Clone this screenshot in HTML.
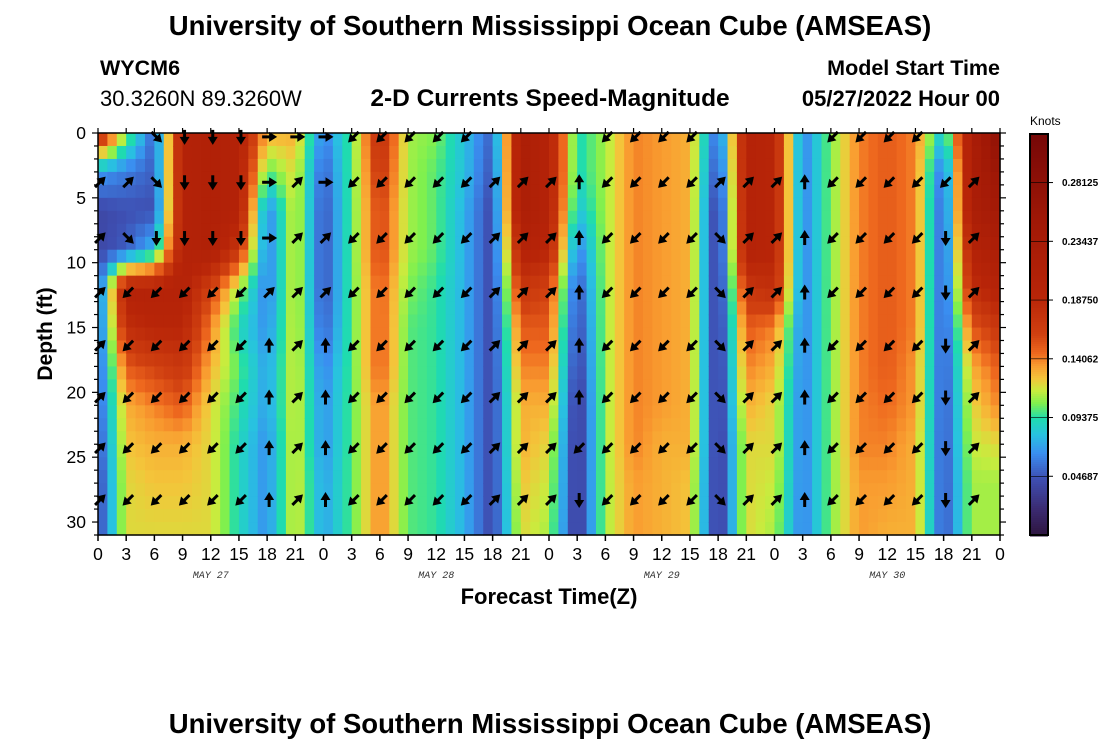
<!DOCTYPE html>
<html><head><meta charset="utf-8"><style>
body{margin:0;background:#fff;}
svg{display:block;font-family:"Liberation Sans",sans-serif;}
</style></head><body>
<svg id="chart" width="1100" height="750" viewBox="0 0 1100 750">
<text x="550" y="35" text-anchor="middle" font-size="27.5" font-weight="bold">University of Southern Mississippi Ocean Cube (AMSEAS)</text>
<text x="100" y="75" font-size="21.5" font-weight="bold">WYCM6</text>
<text x="100" y="106" font-size="22">30.3260N  89.3260W</text>
<text x="550" y="106" text-anchor="middle" font-size="24.5" font-weight="bold">2-D Currents Speed-Magnitude</text>
<text x="1000" y="75" text-anchor="end" font-size="21.5" font-weight="bold">Model Start Time</text>
<text x="1000" y="106" text-anchor="end" font-size="22" font-weight="bold">05/27/2022 Hour 00</text>
<g id="heat"></g>
<g id="arrows"></g>
<rect x="98" y="133" width="902" height="402" fill="none" stroke="#000" stroke-width="1.5"/>
<g id="axes"></g>
<text x="0" y="0" transform="translate(52,334) rotate(-90)" text-anchor="middle" font-size="21" font-weight="bold">Depth (ft)</text>
<text x="549" y="604" text-anchor="middle" font-size="22" font-weight="bold">Forecast Time(Z)</text>
<g id="cbar"></g>
<text x="1030" y="125" font-size="12">Knots</text>
<text x="550" y="733" text-anchor="middle" font-size="27.5" font-weight="bold">University of Southern Mississippi Ocean Cube (AMSEAS)</text>
</svg>
<script>
const hours=[0,3,6,9,12,15,18,21,24,27,30,33,36,39,42,45,48,51,54,57,60,63,66,69,72,75,78,81,84,87,90,93,96];
const depths=[0,3,6,9,12,15,18,21,24,27,31];
const speed=[
[0.19,0.07,0.04,0.04,0.05,0.05,0.05,0.05,0.045,0.04,0.04],
[0.11,0.06,0.045,0.05,0.2,0.18,0.15,0.13,0.125,0.12,0.12],
[0.05,0.05,0.045,0.08,0.2,0.19,0.16,0.14,0.13,0.125,0.12],
[0.2,0.2,0.2,0.2,0.2,0.19,0.17,0.15,0.13,0.125,0.12],
[0.21,0.21,0.21,0.21,0.16,0.14,0.13,0.12,0.12,0.12,0.12],
[0.2,0.2,0.2,0.17,0.11,0.09,0.1,0.095,0.09,0.09,0.09],
[0.13,0.1,0.06,0.06,0.06,0.065,0.07,0.07,0.065,0.065,0.065],
[0.13,0.12,0.12,0.12,0.12,0.12,0.12,0.12,0.12,0.12,0.12],
[0.06,0.05,0.045,0.045,0.045,0.05,0.06,0.065,0.065,0.07,0.07],
[0.1,0.1,0.1,0.1,0.1,0.1,0.1,0.1,0.1,0.1,0.1],
[0.18,0.17,0.16,0.16,0.15,0.15,0.15,0.14,0.14,0.14,0.14],
[0.11,0.11,0.11,0.11,0.105,0.1,0.1,0.1,0.1,0.1,0.1],
[0.105,0.1,0.1,0.1,0.095,0.095,0.095,0.095,0.095,0.095,0.095],
[0.08,0.08,0.075,0.075,0.075,0.075,0.075,0.075,0.075,0.075,0.075],
[0.05,0.045,0.04,0.04,0.04,0.04,0.04,0.04,0.04,0.04,0.04],
[0.22,0.22,0.22,0.2,0.17,0.15,0.14,0.13,0.13,0.125,0.12],
[0.2,0.2,0.2,0.19,0.16,0.15,0.14,0.13,0.12,0.115,0.11],
[0.09,0.09,0.08,0.06,0.045,0.04,0.035,0.03,0.03,0.03,0.03],
[0.11,0.11,0.11,0.11,0.11,0.11,0.11,0.11,0.11,0.11,0.11],
[0.14,0.14,0.14,0.14,0.14,0.14,0.14,0.14,0.14,0.135,0.135],
[0.135,0.135,0.135,0.135,0.135,0.135,0.135,0.135,0.13,0.13,0.13],
[0.13,0.13,0.13,0.13,0.13,0.13,0.13,0.13,0.13,0.125,0.125],
[0.05,0.04,0.03,0.03,0.03,0.03,0.03,0.03,0.03,0.03,0.03],
[0.2,0.2,0.2,0.2,0.17,0.15,0.14,0.13,0.12,0.12,0.12],
[0.19,0.19,0.19,0.19,0.18,0.14,0.13,0.12,0.12,0.115,0.11],
[0.06,0.06,0.06,0.06,0.06,0.06,0.06,0.06,0.06,0.06,0.06],
[0.105,0.105,0.105,0.105,0.105,0.105,0.105,0.105,0.105,0.105,0.105],
[0.14,0.14,0.14,0.14,0.14,0.14,0.14,0.14,0.14,0.135,0.135],
[0.15,0.15,0.15,0.15,0.15,0.15,0.15,0.145,0.14,0.135,0.13],
[0.14,0.14,0.14,0.14,0.14,0.14,0.135,0.135,0.13,0.13,0.13],
[0.08,0.05,0.045,0.045,0.045,0.045,0.045,0.045,0.045,0.045,0.045],
[0.22,0.22,0.22,0.2,0.18,0.15,0.13,0.12,0.115,0.11,0.11],
[0.28,0.26,0.24,0.22,0.2,0.17,0.15,0.14,0.12,0.11,0.11]];
const arrowDepths=[0.3,3.8,8.1,12.3,16.4,20.4,24.3,28.3];
// per column: 0=N,1=NE,2=E,3=SE,4=S,5=SW,6=W,7=NW, '.'=none
const arrowDirs=[".1111111",".1355555","33455555","44455555","44455555","44455555","22210000","21111111","22110000","55555555","55555555","55555555","55555555","55555555",".1111111",".1111111",".1111111",".0000054","55555555","55555555","55555555","55555555",".1333333",".1111111",".1111111",".0000000","55555555","55555555","55555555","55555555",".5444444",".1111111","........"];
const xTickLabels=["0","3","6","9","12","15","18","21"];
const yTicks=[0,5,10,15,20,25,30];
const dateLabels=["MAY 27","MAY 28","MAY 29","MAY 30"];
const dateHours=[12,36,60,84];
const cbarTicks=[0.04687,0.09375,0.14062,0.1875,0.23437,0.28125];
const cbarLabels=["0.04687","0.09375","0.14062","0.18750","0.23437","0.28125"];

const X0=98,X1=1000,Y0=133,Y1=535,HMAX=96,DMAX=31,VMAX=0.32;
const xs=h=>X0+h*(X1-X0)/HMAX;
const ys=d=>Y0+d*(Y1-Y0)/DMAX;
const stops=[[0,"#2e1540"],[0.02,"#3b2a70"],[0.045,"#3e4fb2"],[0.065,"#3a8ef0"],[0.08,"#28c2e0"],[0.093,"#1fdcae"],[0.105,"#80f04e"],[0.115,"#c8ec3e"],[0.125,"#f4c43a"],[0.135,"#f99c30"],[0.145,"#ee681e"],[0.16,"#d04010"],[0.19,"#b82508"],[0.25,"#a01806"],[0.32,"#760707"]];
function hx(c){return [1,3,5].map(i=>parseInt(c.substr(i,2),16));}
function cmap(v){v=Math.max(0,Math.min(VMAX,v));
 for(let i=1;i<stops.length;i++){if(v<=stops[i][0]){const a=hx(stops[i-1][1]),b=hx(stops[i][1]);const t=(v-stops[i-1][0])/(stops[i][0]-stops[i-1][0]);return "rgb("+a.map((x,k)=>Math.round(x+(b[k]-x)*t)).join(",")+")";}}
 return stops[stops.length-1][1];}
function lerpIdx(arr,v){for(let i=1;i<arr.length;i++){if(v<=arr[i])return [i-1,(v-arr[i-1])/(arr[i]-arr[i-1])];}return [arr.length-2,1];}
function sample(h,d){const [i,tx]=lerpIdx(hours,h);const [j,ty]=lerpIdx(depths,d);
 const a=speed[i][j],b=speed[i+1][j],c=speed[i][j+1],e=speed[i+1][j+1];
 return (a*(1-tx)+b*tx)*(1-ty)+(c*(1-tx)+e*tx)*ty;}
const NS="http://www.w3.org/2000/svg";
function mk(tag,attrs,parent){const el=document.createElementNS(NS,tag);for(const k in attrs)el.setAttribute(k,attrs[k]);parent.appendChild(el);return el;}
const heat=document.getElementById('heat');
for(let h=0;h<HMAX;h++){for(let d=0;d<DMAX;d++){
 const v=sample(h+0.5,d+0.5);
 const r=mk('rect',{x:xs(h).toFixed(2),y:ys(d).toFixed(2),width:(xs(h+1)-xs(h)+0.6).toFixed(2),height:(ys(d+1)-ys(d)+0.6).toFixed(2),fill:cmap(v)},heat);
 
 
}}
const arrows=document.getElementById('arrows');
const ang=[-90,-45,0,45,90,135,180,225];
hours.forEach((h,i)=>{const s=arrowDirs[i];arrowDepths.forEach((d,j)=>{const c=s[j];if(c==='.')return;
 const a=ang[+c];const g=mk('g',{transform:`translate(${xs(h)+2},${ys(d)}) rotate(${a})`},arrows);
 
 
 mk('line',{x1:-7,y1:0,x2:2,y2:0,stroke:'#000','stroke-width':3},g);
 mk('polygon',{points:'8,0 0,-5 0,5',fill:'#000'},g);
});});
const axes=document.getElementById('axes');
for(let h=0;h<=HMAX;h+=3){const x=xs(h);
 mk('line',{x1:x,y1:Y1,x2:x,y2:Y1+6,stroke:'#000','stroke-width':1.5},axes);
 mk('line',{x1:x,y1:Y0,x2:x,y2:Y0-5,stroke:'#000','stroke-width':1.2},axes);
 const t=mk('text',{x:x,y:Y1+25,'text-anchor':'middle','font-size':17.5},axes);
 t.textContent=xTickLabels[(h/3)%8];
 
 
}
for(let d=0;d<=DMAX;d++){const y=ys(d);const major=d%5===0;
 mk('line',{x1:X0,y1:y,x2:X0-(major?6:4),y2:y,stroke:'#000','stroke-width':1.2},axes);
 mk('line',{x1:X1,y1:y,x2:X1+(major?6:4),y2:y,stroke:'#000','stroke-width':1.2},axes);
}
yTicks.forEach(d=>{const t=mk('text',{x:X0-12,y:ys(d)+6,'text-anchor':'end','font-size':17.5},axes);
 t.textContent=String(d);
 
 
});
dateLabels.forEach((l,i)=>{const t=mk('text',{x:xs(dateHours[i]),y:578,'text-anchor':'middle','font-size':10,'font-style':'italic','font-family':'Liberation Mono, monospace',fill:'#333'},axes);
 t.textContent=l;
 
 
});
const cb=document.getElementById('cbar');
const CX=1030,CW=18,CY0=134,CY1=535;
const cys=v=>CY1-v*(CY1-CY0)/VMAX;
for(let y=CY0;y<CY1;y+=2){mk('rect',{x:CX,y:y,width:CW,height:2.5,fill:cmap(VMAX*(CY1-y-1)/(CY1-CY0))},cb);}
mk('rect',{x:CX,y:CY0,width:CW,height:CY1-CY0,fill:'none',stroke:'#000','stroke-width':2},cb);
cbarTicks.forEach((v,i)=>{const y=cys(v);
 mk('line',{x1:CX+CW,y1:y,x2:CX+CW+5,y2:y,stroke:'#000','stroke-width':1},cb);
 mk('line',{x1:CX,y1:y,x2:CX+CW,y2:y,stroke:'#000','stroke-width':0.6},cb);
 const t=mk('text',{x:CX+CW+14,y:y+3.5,'font-size':10,'font-weight':'bold'},cb);
 t.textContent=cbarLabels[i];
 
 
});
</script>
</body></html>
